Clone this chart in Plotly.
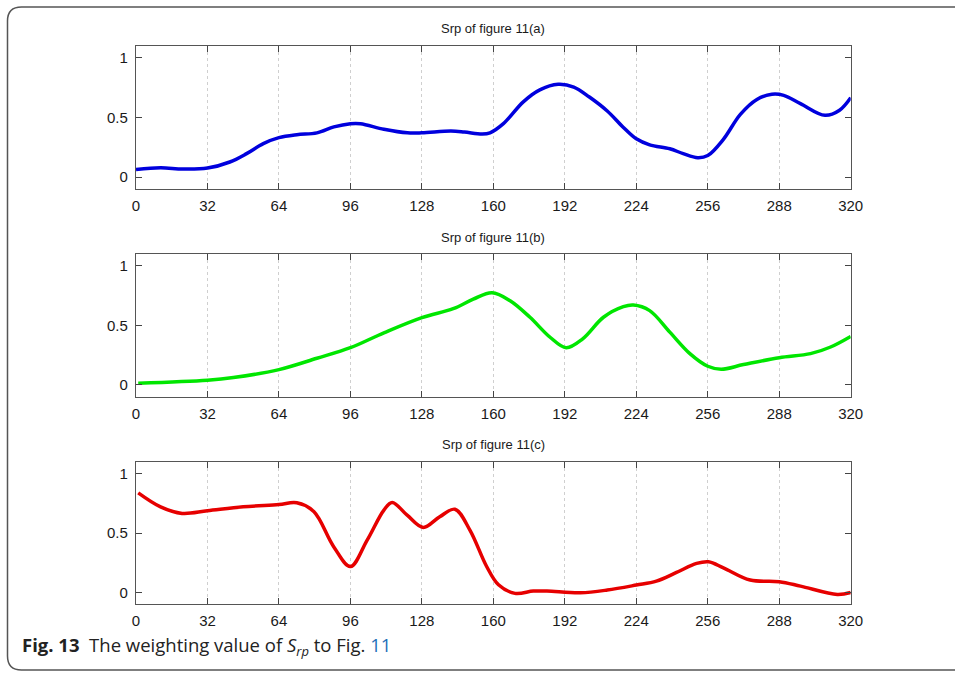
import plotly.graph_objects as go

# ---- data ----
x_a = [0, 11, 21, 32, 42, 49.5, 57, 64, 72, 81, 88.6, 96, 100.5, 111, 121.5, 128, 141, 147, 155,
       158.5, 164.5, 173.4, 180.8, 189, 196, 203, 211, 218, 224, 230, 239, 245, 251.5, 256,
       263, 270.6, 278, 284.7, 290, 297.5, 308.5, 315, 320]
y_a = [0.064, 0.078, 0.067, 0.075, 0.126, 0.196, 0.28, 0.33, 0.355, 0.37, 0.42, 0.447, 0.447, 0.40,
       0.37, 0.37, 0.385, 0.377, 0.36,
       0.37, 0.447, 0.63, 0.73, 0.777, 0.754, 0.67, 0.553, 0.42, 0.32, 0.27, 0.237, 0.196, 0.162, 0.18,
       0.316, 0.525, 0.65, 0.693, 0.684, 0.615, 0.517, 0.56, 0.665]

x_b = [1, 32, 43.6, 64, 81, 96, 111, 128, 142, 151, 159.4, 167.5, 176.4, 185.4, 192.6, 200, 209.3,
       218.2, 222.7, 230, 239, 248, 256, 262, 272, 288, 302, 311, 320]
y_b = [0.014, 0.039, 0.061, 0.128, 0.223, 0.312, 0.437, 0.565, 0.64, 0.72, 0.774, 0.707, 0.568,
       0.40, 0.312, 0.387, 0.568, 0.657, 0.671, 0.624, 0.443, 0.262, 0.156, 0.131, 0.17, 0.228,
       0.262, 0.318, 0.407]

x_c = [1, 11, 20.6, 32, 48, 64, 72, 79.6, 88.5, 96, 103.5, 111, 114.7, 121.4, 128.6, 136, 142.8,
       149.5, 157, 162.3, 169.7, 177.9, 184, 199, 211, 224, 233, 242, 251, 256.3, 263, 275, 288,
       297.5, 314, 320]
y_c = [0.838, 0.72, 0.665, 0.687, 0.72, 0.74, 0.754, 0.68, 0.385, 0.218, 0.44, 0.693, 0.757, 0.65,
       0.547, 0.637, 0.70, 0.525, 0.218, 0.064, -0.008, 0.011, 0.011, -0.003, 0.02, 0.062, 0.095,
       0.168, 0.244, 0.258, 0.207, 0.104, 0.09, 0.053, -0.017, 0.0]

titles = ["Srp of figure 11(a)", "Srp of figure 11(b)", "Srp of figure 11(c)"]
x_ticks = [0, 32, 64, 96, 128, 160, 192, 224, 256, 288, 320]
y_ticks = [0, 0.5, 1]
y_tick_labels = ["0", "0.5", "1"]
caption = ("<b>Fig. 13</b>  The weighting value of <i>S</i><sub><i>rp</i></sub> to Fig. "
           "<span style='color:#1f6fb8'>11</span>")

# ---- layout ----
W, H = 955, 676
x_left, x_right = 136, 850.7
panels_px = [(45.7, 189.0), (254.0, 396.7), (461.7, 604.3)]
colors = ["#0000dd", "#00e600", "#e60000"]
series = [(x_a, y_a), (x_b, y_b), (x_c, y_c)]

fig = go.Figure()
font_tick = dict(family="Liberation Sans, Arial, sans-serif", size=15, color="#1a1a1a")

for i, ((xs, ys), col) in enumerate(zip(series, colors)):
    n = "" if i == 0 else str(i + 1)
    fig.add_trace(go.Scatter(x=xs, y=ys, mode="lines",
                             line=dict(color=col, width=3.5, shape="spline", smoothing=1.0),
                             xaxis="x" + n, yaxis="y" + n, showlegend=False, hoverinfo="skip"))
    top, bot = panels_px[i]
    axis_common = dict(showline=True, linecolor="#555555", linewidth=1.2, mirror="ticks",
                       ticks="inside", ticklen=6, tickcolor="#444444", tickwidth=1,
                       tickfont=font_tick, zeroline=False, automargin=False)
    fig.layout["xaxis" + n] = dict(
        domain=[x_left / W, x_right / W], range=[0, 320], tickvals=x_ticks,
        showgrid=True, gridcolor="#cfcfcf", griddash="dot", gridwidth=1,
        anchor="y" + n, ticklabelstandoff=3, **axis_common)
    fig.layout["yaxis" + n] = dict(
        domain=[1 - bot / H, 1 - top / H], range=[-0.1, 1.1], tickvals=y_ticks,
        ticktext=y_tick_labels, showgrid=False, anchor="x" + n, ticklabelstandoff=4,
        **axis_common)
    fig.add_annotation(text=titles[i], x=(x_left + x_right) / 2 / W, y=1 - (top - 17) / H,
                       xref="paper", yref="paper", showarrow=False, xanchor="center",
                       yanchor="middle",
                       font=dict(family="Liberation Sans, Arial, sans-serif", size=13,
                                 color="#1a1a1a"))

# caption
fig.add_annotation(text=caption, x=20 / W, y=1 - 646 / H, xref="paper", yref="paper",
                   showarrow=False, xanchor="left", yanchor="middle",
                   font=dict(family="Open Sans, Noto Sans, sans-serif", size=18.5,
                             color="#222222"))

# rounded outer frame (right side runs to the page edge)
l, t, b, r, rad = 7.5 / W, 1 - 7 / H, 1 - 670 / H, 1.0, 14
rx, ry = rad / W, rad / H
path = (f"M {r},{t} L {l + rx},{t} Q {l},{t} {l},{t - ry} L {l},{b + ry} "
        f"Q {l},{b} {l + rx},{b} L {r},{b}")
fig.add_shape(type="path", path=path, xref="paper", yref="paper",
              line=dict(color="#555555", width=1.5))

fig.update_layout(width=W, height=H, autosize=False, margin=dict(l=0, r=0, t=0, b=0),
                  paper_bgcolor="white", plot_bgcolor="white")

fig.write_html("out.html",
               config={"displayModeBar": False, "responsive": False},
               post_script="document.body.style.margin='0';"
                           "document.body.style.overflow='hidden';")
